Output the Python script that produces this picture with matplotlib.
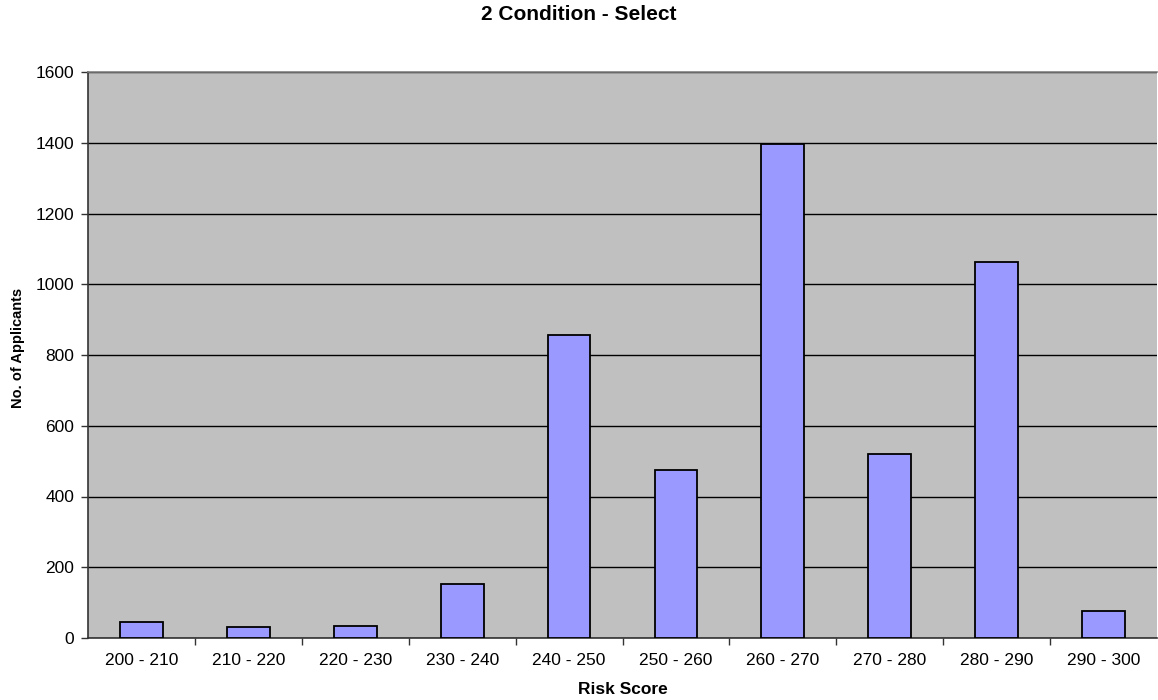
import matplotlib
matplotlib.use("Agg")
import matplotlib.pyplot as plt
from matplotlib.ticker import MultipleLocator

#Data
riskBands = ["200 - 210", "210 - 220", "220 - 230", "230 - 240", "240 - 250",
             "250 - 260", "260 - 270", "270 - 280", "280 - 290", "290 - 300"]
applicants = [44, 30, 35, 153, 857, 476, 1397, 521, 1064, 75]

plt.rcParams["font.family"] = ["Liberation Sans", "DejaVu Sans"]

fig = plt.figure(figsize=(11.58, 7.0), dpi=100)
ax = fig.add_axes([88 / 1158, 62 / 700, 1069 / 1158, 566 / 700])
ax.set_facecolor("#C0C0C0")

xPos = list(range(len(riskBands)))
ax.bar(xPos, applicants, width=0.4, color="#9999FF",
       edgecolor="black", linewidth=1.3, zorder=3)

#Axes and grid
ax.set_xlim(-0.5, len(riskBands) - 0.5)
ax.set_ylim(0, 1600)
ax.yaxis.set_major_locator(MultipleLocator(200))
ax.grid(True, axis="y", color="black", linewidth=1.0, zorder=1)
ax.set_xticks([x + 0.5 for x in xPos[:-1]], minor=False)
ax.set_xticklabels([])
ax.set_xticks(xPos, minor=True)
ax.set_xticklabels(riskBands, minor=True)
ax.tick_params(axis="x", which="major", direction="out", length=5, width=1, color="#333333")
ax.tick_params(axis="x", which="minor", length=0, pad=11, labelsize=12.5)
ax.tick_params(axis="y", direction="out", length=5, width=1, color="#333333",
               labelsize=12.5, pad=5)

for side in ["left", "bottom"]:
    ax.spines[side].set_color("#333333")
    ax.spines[side].set_linewidth(1.2)
ax.spines["top"].set_color("#808080")
ax.spines["top"].set_linewidth(1.2)
ax.spines["right"].set_visible(False)

#Labels
fig.text(0.5, 1 - 15 / 700, "2 Condition - Select", ha="center", va="center",
         fontsize=15, fontweight="bold")
ax.set_xlabel("Risk Score", fontsize=12.5, fontweight="bold")
ax.set_ylabel("No. of Applicants", fontsize=10.5, fontweight="bold")
ax.xaxis.set_label_coords(0.5, -0.078)
ax.yaxis.set_label_coords(-0.059, 0.512)

fig.savefig("out.png", dpi=100, facecolor="white")
